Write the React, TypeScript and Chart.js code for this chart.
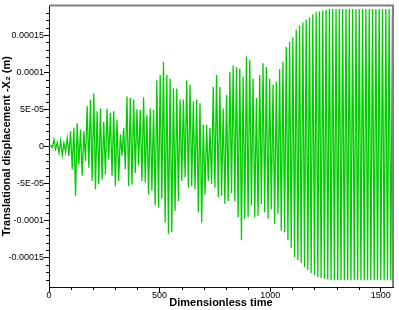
import React, { useEffect, useRef } from "react";
import { Chart, registerables } from "chart.js";

Chart.register(...registerables);

// Time between successive extrema (half an oscillation period), dimensionless time
const HALF_PERIOD = 7.5;

// Successive positive peaks of X2, in units of 1e-5 m
const peaks = [
  0.1, 0.9, 0.5, 0.7, 0.4, 1.1, 2.0, 2.5, 3.1, 2.2,
  2.0, 5.4, 6.3, 7.1, 4.7, 5.1, 3.3, 5.1, 4.5, 4.7,
  3.6, 1.6, 2.5, 6.7, 6.5, 6.3, 5.0, 4.9, 6.6, 4.2,
  5.1, 4.9, 8.9, 9.6, 11.4, 9.6, 9.1, 7.8, 7.8, 6.3,
  6.3, 8.9, 8.3, 6.0, 6.3, 5.8, 2.9, 2.9, 2.5, 8.0,
  9.6, 8.0, 5.1, 6.9, 10.0, 10.9, 10.7, 10.5, 9.4, 12.1,
  11.6, 9.1, 6.5, 9.6, 11.2, 10.7, 9.1, 8.3, 8.7, 10.4,
  11.4, 13.4, 14.1, 14.7, 15.7, 16.3, 16.7, 17.1, 17.4, 17.8,
  18.1, 18.2, 18.3, 18.4, 18.5, 18.5, 18.5, 18.5, 18.5, 18.5,
  18.5, 18.5, 18.5, 18.5, 18.5, 18.5, 18.5, 18.5, 18.5, 18.5,
  18.5, 18.5, 18.5, 18.5,
];

// Successive negative troughs of X2, in units of 1e-5 m
const troughs = [
  -0.2, -0.4, -0.9, -1.2, -0.8, -1.3, -3.1, -6.7, -2.5, -4.0,
  -2.0, -2.9, -4.7, -5.8, -5.1, -4.5, -3.8, -1.8, -4.0, -5.4,
  -4.7, -1.3, -3.1, -5.4, -5.2, -3.6, -2.6, -4.7, -4.9, -6.5,
  -6.0, -8.0, -8.3, -7.1, -10.3, -11.8, -11.6, -8.7, -7.4, -4.7,
  -4.2, -5.6, -5.4, -5.8, -8.9, -10.3, -6.5, -4.7, -5.1, -5.6,
  -6.9, -6.7, -7.8, -7.4, -6.3, -7.4, -9.6, -12.7, -9.8, -9.6,
  -8.0, -9.6, -9.4, -7.8, -8.9, -9.8, -8.5, -10.5, -9.1, -11.4,
  -11.6, -12.7, -13.7, -15.0, -15.4, -15.8, -16.3, -16.7, -17.1, -17.4,
  -17.7, -17.8, -17.9, -18.0, -18.1, -18.1, -18.1, -18.1, -18.1, -18.1,
  -18.1, -18.1, -18.1, -18.1, -18.1, -18.1, -18.1, -18.1, -18.1, -18.1,
  -18.1, -18.1, -18.1,
];

const xTickValues = [0, 500, 1000, 1500];
const xTickLabels = ["0", "500", "1000", "1500"];
const yTickValues = [-0.00015, -0.0001, -0.00005, 0, 0.00005, 0.0001, 0.00015];
const yTickLabels = ["-0.00015", "-0.0001", "-5E-05", "0", "5E-05", "0.0001", "0.00015"];

const X_MIN = 0;
const X_MAX = 1555;
const Y_MIN = -0.00019;
const Y_MAX = 0.00019;
const X_MINOR_STEP = 100;
const Y_MINOR_STEP = 0.00001;

const FONT = "'Liberation Sans', Arial, Helvetica, sans-serif";
const LINE_COLOR = "#00cc00";

function buildPoints() {
  const pts: { x: number; y: number }[] = [{ x: 0, y: 0 }];
  for (let c = 0; c < peaks.length; c++) {
    pts.push({ x: HALF_PERIOD * (2 * c + 1), y: peaks[c] * 1e-5 });
    if (c < troughs.length) {
      pts.push({ x: HALF_PERIOD * (2 * c + 2), y: troughs[c] * 1e-5 });
    }
  }
  return pts;
}

const framePlugin = {
  id: "frameAndMinorTicks",
  afterDraw(chart: any) {
    const { ctx, chartArea: a, scales } = chart;
    ctx.save();
    ctx.strokeStyle = "#000";
    ctx.lineWidth = 1;
    ctx.beginPath();
    for (let v = X_MINOR_STEP; v < X_MAX; v += X_MINOR_STEP) {
      if (Math.abs(v % 500) < 1e-9) continue;
      const px = Math.round(scales.x.getPixelForValue(v)) + 0.5;
      ctx.moveTo(px, a.bottom);
      ctx.lineTo(px, a.bottom + 3);
    }
    for (let k = -18; k <= 18; k++) {
      if (k % 5 === 0) continue;
      const py = Math.round(scales.y.getPixelForValue(k * Y_MINOR_STEP)) + 0.5;
      ctx.moveTo(a.left, py);
      ctx.lineTo(a.left - 3, py);
    }
    ctx.stroke();
    ctx.strokeStyle = "#808080";
    ctx.lineWidth = 2;
    ctx.beginPath();
    ctx.moveTo(a.left, a.top);
    ctx.lineTo(a.right, a.top);
    ctx.lineTo(a.right, a.bottom);
    ctx.stroke();
    ctx.restore();
  },
};

export default function App() {
  const canvasRef = useRef<HTMLCanvasElement | null>(null);

  useEffect(() => {
    if (!canvasRef.current) return;
    const chart = new Chart(canvasRef.current, {
      type: "line",
      data: {
        datasets: [
          {
            data: buildPoints(),
            borderColor: LINE_COLOR,
            borderWidth: 1.3,
            pointRadius: 0,
            tension: 0,
            fill: false,
          },
        ],
      },
      options: {
        animation: false,
        responsive: false,
        maintainAspectRatio: false,
        layout: { padding: { top: 3, right: 6, left: 0, bottom: 0 } },
        plugins: { legend: { display: false }, tooltip: { enabled: false } },
        scales: {
          x: {
            type: "linear",
            min: X_MIN,
            max: X_MAX,
            afterBuildTicks: (s: any) => {
              s.ticks = xTickValues.map((v) => ({ value: v }));
            },
            afterFit: (s: any) => {
              s.height = 23;
            },
            ticks: {
              callback: (_v: any, i: number) => xTickLabels[i],
              font: { family: FONT, size: 9 },
              color: "#000",
              padding: -2,
              maxRotation: 0,
              autoSkip: false,
            },
            grid: {
              display: true,
              drawOnChartArea: false,
              drawTicks: true,
              tickLength: 5,
              tickColor: "#000",
              tickWidth: 1,
            },
            border: { display: true, color: "#111", width: 1 },
            title: {
              display: true,
              text: "Dimensionless time",
              font: { family: FONT, size: 11, weight: "bold" },
              color: "#000",
              padding: { top: 0, bottom: 0 },
            },
          },
          y: {
            type: "linear",
            min: Y_MIN,
            max: Y_MAX,
            afterBuildTicks: (s: any) => {
              s.ticks = yTickValues.map((v) => ({ value: v }));
            },
            afterFit: (s: any) => {
              s.width = 49;
            },
            ticks: {
              callback: (_v: any, i: number) => yTickLabels[i],
              font: { family: FONT, size: 9 },
              color: "#000",
              padding: 0,
              autoSkip: false,
            },
            grid: {
              display: true,
              drawOnChartArea: false,
              drawTicks: true,
              tickLength: 5,
              tickColor: "#000",
              tickWidth: 1,
            },
            border: { display: true, color: "#111", width: 1 },
            title: {
              display: true,
              text: "Translational displacement -X\u2082 (m)",
              font: { family: FONT, size: 11, weight: "bold" },
              color: "#000",
              padding: { top: 0, bottom: 0 },
            },
          },
        },
      },
      plugins: [framePlugin],
    } as any);
    return () => chart.destroy();
  }, []);

  return (
    <div style={{ position: "absolute", left: 0, top: 0, width: 399, height: 310 }}>
      <canvas ref={canvasRef} width={399} height={310} style={{ display: "block" }} />
    </div>
  );
}
